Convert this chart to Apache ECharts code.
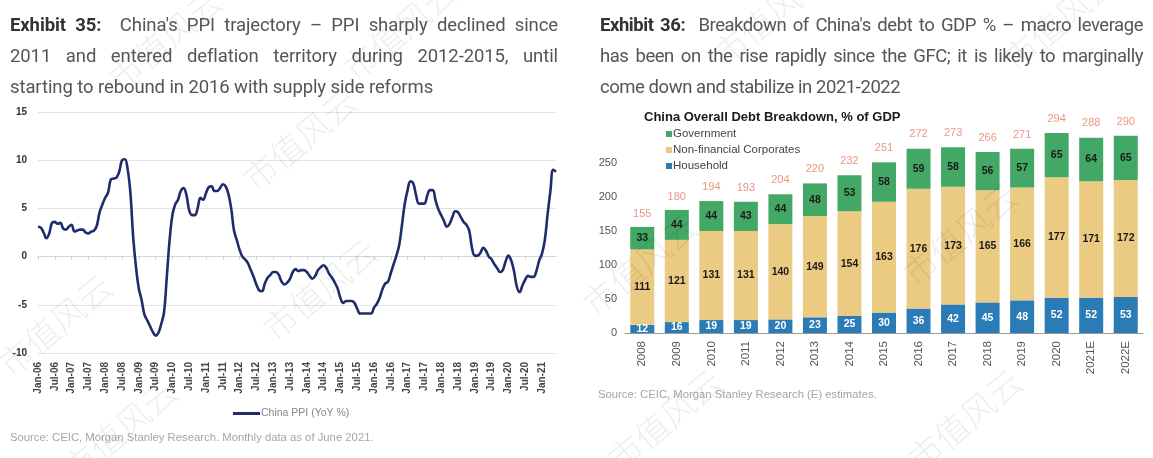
<!DOCTYPE html>
<html>
<head>
<meta charset="utf-8">
<script src="https://cdn.jsdelivr.net/npm/echarts@6/dist/echarts.min.js"></script>
<style>
  html, body { margin: 0; padding: 0; background: #fff; }
  #wrap { position: relative; width: 1153px; height: 458px; overflow: hidden; }
  #chart { position: absolute; left: 0; top: 0; width: 1153px; height: 458px; }
  .note { position: absolute; top: 10px; font-family: Roboto, sans-serif; font-size: 18.5px; line-height: 31px; color: #555; }
  .note div { text-align: justify; text-align-last: justify; }
  .note div.last { text-align-last: left; }
  .note b { color: #333; }
</style>
</head>
<body>
<div id="wrap">
  <div id="chart"></div>
  <div class="note" style="left:10px;width:548px;letter-spacing:-0.1px">
    <div><b>Exhibit 35:</b>&nbsp; China's PPI trajectory – PPI sharply declined since</div>
    <div>2011 and entered deflation territory during 2012-2015, until</div>
    <div class="last">starting to rebound in 2016 with supply side reforms</div>
  </div>
  <div class="note" style="left:600px;width:543px;letter-spacing:-0.45px">
    <div><b>Exhibit 36:</b>&nbsp; Breakdown of China's debt to GDP % – macro leverage</div>
    <div>has been on the rise rapidly since the GFC; it is likely to marginally</div>
    <div class="last">come down and stabilize in 2021-2022</div>
  </div>
</div>
<script>
// ---- Exhibit 35: China PPI, YoY %, monthly Jan-06 .. Jun-21 ----
const monthNames = ['Jan', 'Feb', 'Mar', 'Apr', 'May', 'Jun', 'Jul', 'Aug', 'Sep', 'Oct', 'Nov', 'Dec']
const months = []
for (let y = 2006; y <= 2021; y++) {
  monthNames.forEach((m, i) => {
    if (y === 2021 && i > 5) return
    months.push(m + '-' + String(y).slice(2))
  })
}

const ppi2006 = [3.1, 3.0, 2.5, 1.9, 2.4, 3.5, 3.6, 3.4, 3.5, 2.9, 2.8, 3.1]
const ppi2007 = [3.3, 2.6, 2.7, 2.8, 2.8, 2.5, 2.4, 2.6, 2.7, 3.2, 4.6, 5.4]
const ppi2008 = [6.1, 6.6, 8.0, 8.1, 8.2, 8.8, 10.0, 10.1, 9.1, 6.6, 2.0, -1.1]
const ppi2009 = [-3.3, -4.5, -6.0, -6.6, -7.2, -7.8, -8.2, -7.9, -7.0, -5.8, -2.1, 1.7]
const ppi2010 = [4.3, 5.4, 5.9, 6.8, 7.1, 6.4, 4.8, 4.3, 4.3, 5.0, 6.1, 5.9]
const ppi2011 = [6.6, 7.2, 7.3, 6.8, 6.8, 7.1, 7.5, 7.3, 6.5, 5.0, 2.7, 1.7]
const ppi2012 = [0.7, 0.0, -0.3, -0.7, -1.4, -2.1, -2.9, -3.5, -3.6, -2.8, -2.2, -1.9]
const ppi2013 = [-1.6, -1.6, -1.9, -2.6, -2.9, -2.7, -2.3, -1.6, -1.3, -1.5, -1.4, -1.4]
const ppi2014 = [-1.6, -2.0, -2.3, -2.0, -1.4, -1.1, -0.9, -1.2, -1.8, -2.2, -2.7, -3.3]
const ppi2015 = [-4.3, -4.8, -4.6, -4.6, -4.6, -4.8, -5.4, -5.9, -5.9, -5.9, -5.9, -5.9]
const ppi2016 = [-5.3, -4.9, -4.3, -3.4, -2.8, -2.6, -1.7, -0.8, 0.1, 1.2, 3.3, 5.5]
const ppi2017 = [6.9, 7.8, 7.6, 6.4, 5.5, 5.5, 5.5, 6.3, 6.9, 6.9, 5.8, 4.9]
const ppi2018 = [4.3, 3.7, 3.1, 3.4, 4.1, 4.7, 4.6, 4.1, 3.6, 3.3, 2.7, 0.9]
const ppi2019 = [0.1, 0.1, 0.4, 0.9, 0.6, 0.0, -0.3, -0.8, -1.2, -1.6, -1.4, -0.5]
const ppi2020 = [0.1, -0.4, -1.5, -3.1, -3.7, -3.0, -2.4, -2.0, -2.1, -2.1, -1.5, -0.4]
const ppi2021 = [0.3, 1.7, 4.4, 6.8, 9.0, 8.8]
const ppi = [].concat(ppi2006, ppi2007, ppi2008, ppi2009, ppi2010, ppi2011, ppi2012,
  ppi2013, ppi2014, ppi2015, ppi2016, ppi2017, ppi2018, ppi2019, ppi2020, ppi2021)

// ---- Exhibit 36: China debt breakdown, % of GDP ----
const years = ['2008', '2009', '2010', '2011', '2012', '2013', '2014', '2015',
  '2016', '2017', '2018', '2019', '2020', '2021E', '2022E']
const household = [12, 16, 19, 19, 20, 23, 25, 30, 36, 42, 45, 48, 52, 52, 53]
const corporates = [111, 121, 131, 131, 140, 149, 154, 163, 176, 173, 165, 166, 177, 171, 172]
const government = [33, 44, 44, 43, 44, 48, 53, 58, 59, 58, 56, 57, 65, 64, 65]
const totals = [155, 180, 194, 193, 204, 220, 232, 251, 272, 273, 266, 271, 294, 288, 290]

// 水印位置（中心点）
const watermarkSpots = [
  [165, 40], [400, 30], [770, 15], [1060, 20],
  [55, 325], [320, 290], [640, 265], [960, 235],
  [120, 430], [665, 420], [965, 420], [300, 140]
]

const font = '"Liberation Sans", Arial, sans-serif'
const chart = echarts.init(document.getElementById('chart'))

// 柱内数字标签
const inLabel = (color) => ({
  show: true, position: 'inside', color: color, fontSize: 10.5, fontWeight: 'bold', fontFamily: font
})

const watermarks = watermarkSpots.map(p => ({
  type: 'text', x: p[0], y: p[1], rotation: Math.PI * 40 / 180, silent: true, z: 100,
  style: {
    text: '市值风云', fontSize: 34, fontFamily: '"Noto Sans CJK SC"', fontWeight: 300,
    fill: 'rgba(0,0,0,0.07)', align: 'center', verticalAlign: 'middle'
  }
}))

chart.setOption({
  animation: false,
  textStyle: { fontFamily: font },
  title: [{
    text: 'China Overall Debt Breakdown, % of GDP',
    left: 639, top: 106,
    textStyle: { fontSize: 13, fontWeight: 'bold', color: '#1a1a1a', fontFamily: font }
  }],
  legend: [{
    data: ['China PPI (YoY %)'],
    left: 228, top: 403,
    icon: 'rect', itemWidth: 27, itemHeight: 3, itemGap: 0,
    textStyle: { fontSize: 10.5, color: '#888', padding: [0, 0, 0, -4] }
  }, {
    data: ['Government', 'Non-financial Corporates', 'Household'],
    orient: 'vertical', left: 661, top: 123,
    icon: 'rect', itemWidth: 6, itemHeight: 6, itemGap: 4,
    textStyle: { fontSize: 11.5, color: '#444', padding: [0, 0, 0, -4] }
  }],
  grid: [
    { left: 38, top: 112, width: 518, bottom: 105 },
    { left: 625, top: 129, width: 518, bottom: 125 }
  ],
  xAxis: [{
    // 零轴线 + 半年刻度
    type: 'category', gridIndex: 0, data: months, boundaryGap: false,
    axisLine: { onZero: true, lineStyle: { color: '#d6d6d6' } },
    axisTick: { interval: 5, length: 3, lineStyle: { color: '#cfcfcf' } },
    axisLabel: { show: false }
  }, {
    // 底部月份标签
    type: 'category', gridIndex: 0, data: months, boundaryGap: false, position: 'bottom',
    axisLine: { show: false }, axisTick: { show: false },
    axisLabel: { interval: 5, rotate: 90, fontSize: 10, fontWeight: 'bold', color: '#444', margin: 9 }
  }, {
    type: 'category', gridIndex: 1, data: years,
    axisLine: { lineStyle: { color: '#9a9a9a' } },
    axisTick: { length: 4, lineStyle: { color: '#9a9a9a' } },
    axisLabel: { interval: 0, rotate: 90, fontSize: 11.5, color: '#555', margin: 8 }
  }],
  yAxis: [{
    type: 'value', gridIndex: 0, min: -10, max: 15, interval: 5,
    axisLine: { show: false }, axisTick: { show: false },
    splitLine: { lineStyle: { color: '#e3e3e3' } },
    axisLabel: { fontSize: 10, fontWeight: 'bold', color: '#333', margin: 11 }
  }, {
    type: 'value', gridIndex: 1, min: 0, max: 300, interval: 50,
    axisLine: { show: false }, axisTick: { show: false }, splitLine: { show: false },
    axisLabel: { fontSize: 11, color: '#555', margin: 8, formatter: v => (v === 300 ? '' : v) }
  }],
  series: [{
    name: 'China PPI (YoY %)', type: 'line', xAxisIndex: 0, yAxisIndex: 0,
    data: ppi, smooth: 0.4, showSymbol: false,
    lineStyle: { color: '#1f2c6c', width: 2.6 }, itemStyle: { color: '#1f2c6c' }
  }, {
    name: 'Household', type: 'bar', stack: 'debt', xAxisIndex: 2, yAxisIndex: 1,
    data: household, barWidth: 24, itemStyle: { color: '#2b7bb7' }, label: inLabel('#fff')
  }, {
    name: 'Non-financial Corporates', type: 'bar', stack: 'debt', xAxisIndex: 2, yAxisIndex: 1,
    data: corporates, barWidth: 24, itemStyle: { color: '#ebca82' }, label: inLabel('#1a1a1a')
  }, {
    name: 'Government', type: 'bar', stack: 'debt', xAxisIndex: 2, yAxisIndex: 1,
    data: government, barWidth: 24, itemStyle: { color: '#43a865' }, label: inLabel('#1a1a1a')
  }, {
    // 总计标签
    name: 'Total', type: 'scatter', xAxisIndex: 2, yAxisIndex: 1,
    data: totals, symbolSize: 1, itemStyle: { color: 'rgba(0,0,0,0)' },
    label: { show: true, position: 'top', distance: 8, color: '#e57a62', fontSize: 11 }
  }],
  graphic: [{
    type: 'text', left: 10, top: 432,
    style: { text: 'Source: CEIC, Morgan Stanley Research. Monthly data as of June 2021.', fontSize: 11.3, fill: '#a5a5a5', fontFamily: font }
  }, {
    type: 'text', left: 598, top: 389,
    style: { text: 'Source: CEIC, Morgan Stanley Research (E) estimates.', fontSize: 11.3, fill: '#a5a5a5', fontFamily: font }
  }].concat(watermarks)
})
</script>
</body>
</html>
